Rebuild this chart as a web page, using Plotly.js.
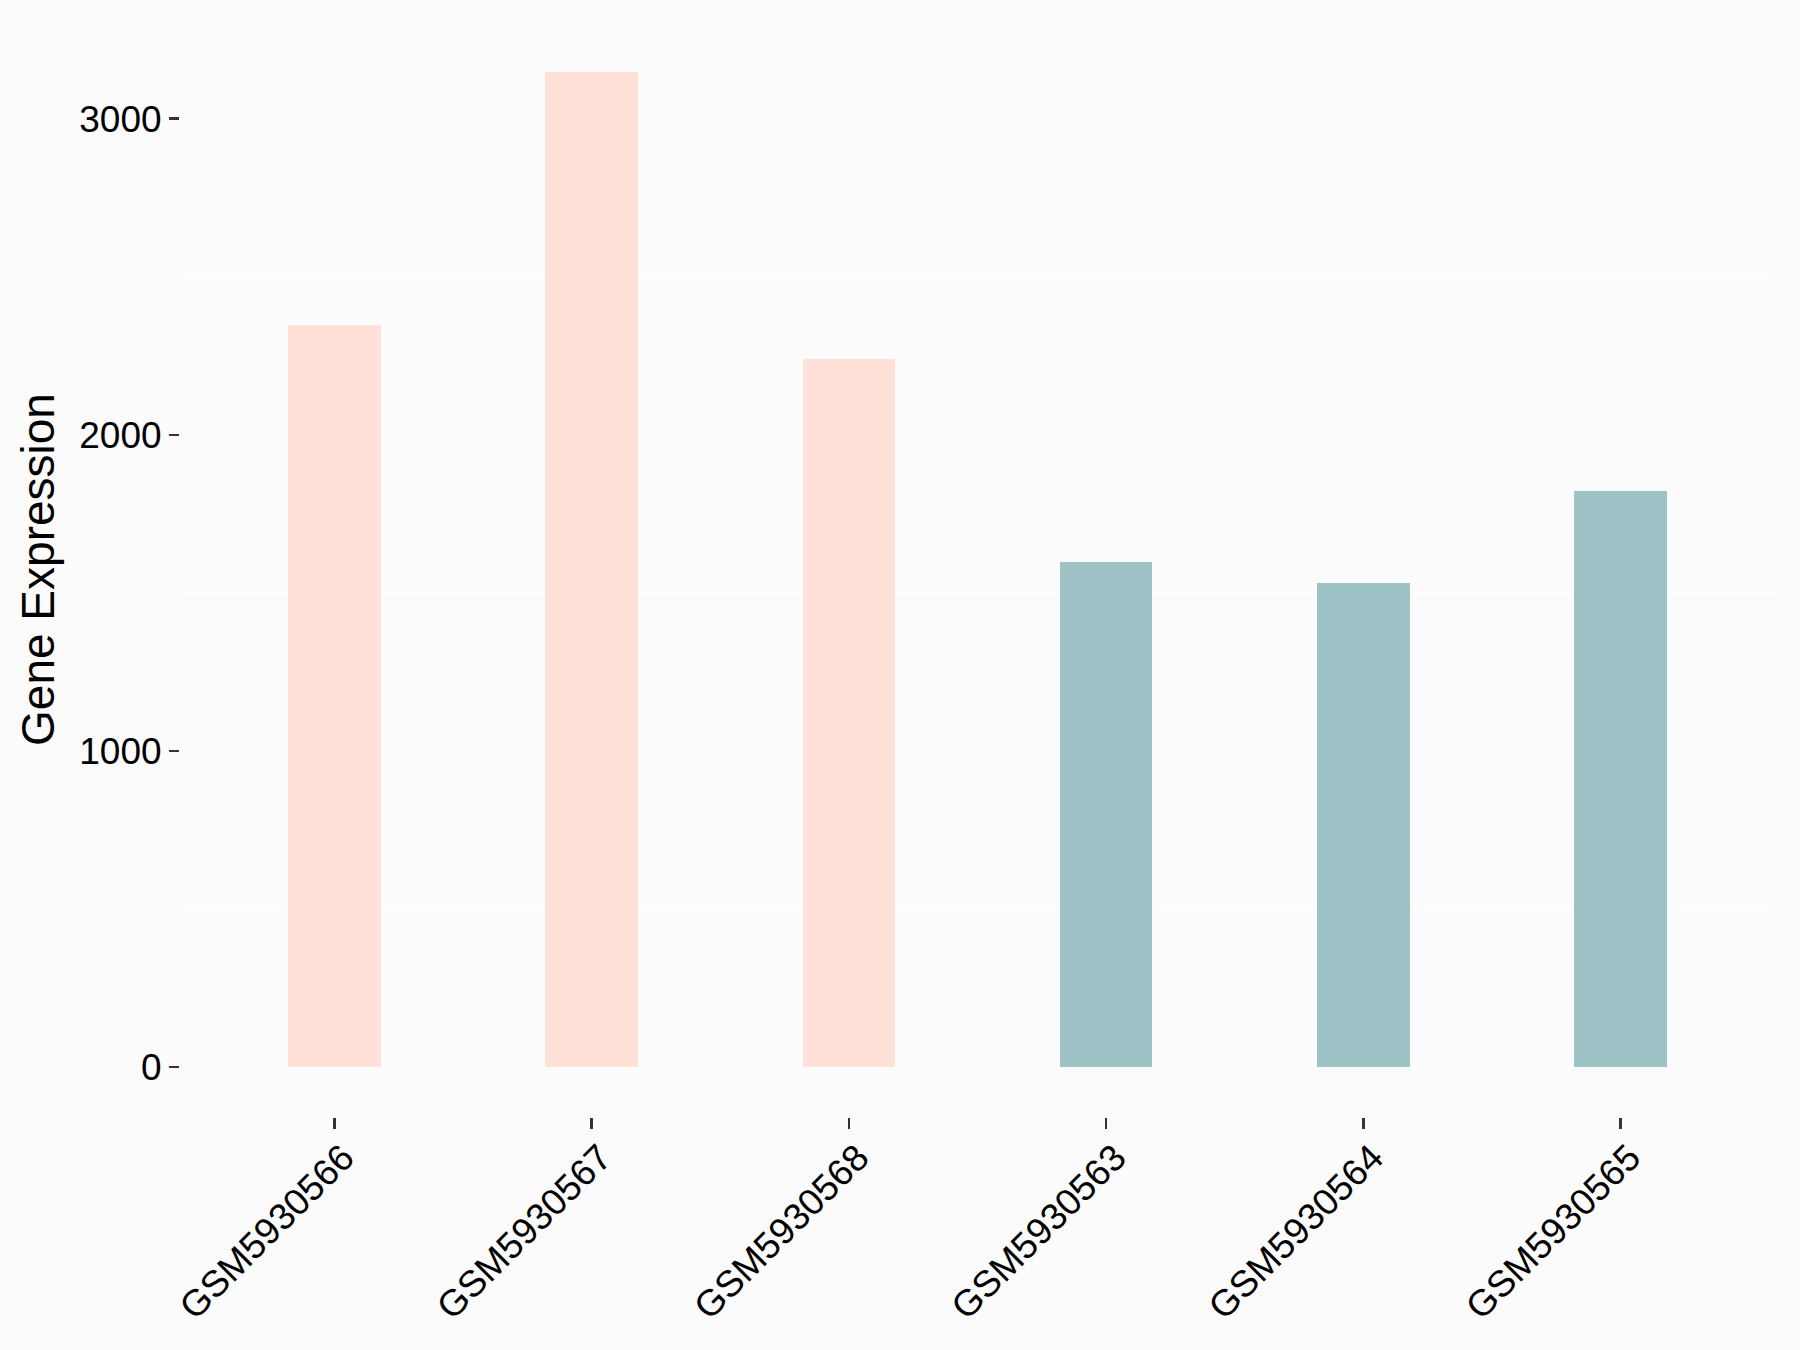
<!DOCTYPE html>
<html>
<head>
<meta charset="utf-8">
<script src="https://cdn.plot.ly/plotly-3.0.1.min.js"></script>
<style>
  html, body { margin: 0; padding: 0; background: #FBFBFB; }
  #chart { width: 1800px; height: 1350px; }
</style>
</head>
<body>
<div id="chart"></div>
<script>
const samples = ['GSM5930566', 'GSM5930567', 'GSM5930568', 'GSM5930563', 'GSM5930564', 'GSM5930565'];
const expression = [2347, 3148, 2241, 1599, 1530, 1821];
const groups = ['case', 'case', 'case', 'control', 'control', 'control'];
const groupColors = { case: '#FFE1D7', control: '#9DC3C7' };

const yMax = Math.max(...expression);
const pad = yMax * 0.05;

const trace = {
  type: 'bar',
  x: samples,
  y: expression,
  width: 0.36,
  marker: { color: groups.map(g => groupColors[g]), line: { width: 0 } },
  hoverinfo: 'x+y',
  showlegend: false
};

const layout = {
  width: 1800,
  height: 1350,
  paper_bgcolor: '#FBFBFB',
  plot_bgcolor: '#FBFBFB',
  margin: { l: 180, r: 25, t: 22, b: 233 },
  font: { family: 'Liberation Sans, Arial, sans-serif', color: '#000000', size: 37 },
  showlegend: false,
  bargap: 0,
  xaxis: {
    type: 'category',
    range: [-0.6, samples.length - 0.4],
    showgrid: false,
    zeroline: false,
    showline: false,
    ticks: 'outside',
    ticklen: 11,
    tickwidth: 2.5,
    tickcolor: '#333333',
    tickangle: -45,
    ticklabelshift: 9,
    ticklabelstandoff: -8,
    tickfont: { size: 37, color: '#000000' }
  },
  yaxis: {
    range: [-pad, yMax + pad],
    tickvals: [0, 1000, 2000, 3000],
    ticktext: ['0', '1000', '2000', '3000'],
    showgrid: false,
    zeroline: false,
    showline: false,
    ticks: 'outside',
    ticklen: 10,
    tickwidth: 2.5,
    tickcolor: '#333333',
    tickfont: { size: 37, color: '#000000' },
    minor: { tickvals: [500, 1500, 2500], showgrid: true, gridcolor: '#FFFFFF', gridwidth: 2, ticks: '' },
    title: { text: 'Gene Expression', font: { size: 46, color: '#000000' }, standoff: 10 }
  }
};

Plotly.newPlot('chart', [trace], layout, { displayModeBar: false, staticPlot: true });
</script>
</body>
</html>
